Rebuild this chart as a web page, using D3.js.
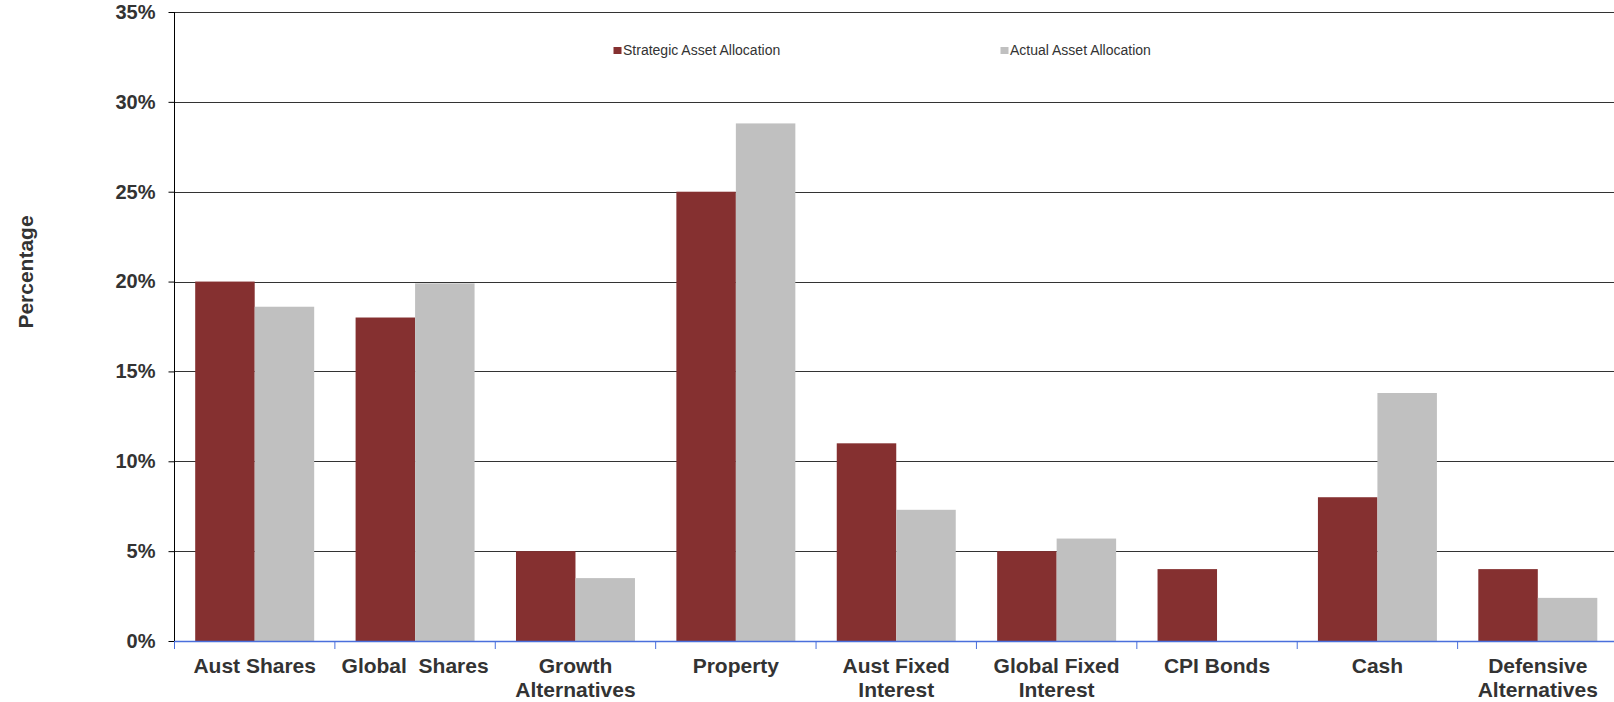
<!DOCTYPE html>
<html>
<head>
<meta charset="utf-8">
<script src="https://cdn.jsdelivr.net/npm/d3@7"></script>
<style>
  html, body { margin: 0; padding: 0; background: #fff; }
  svg { display: block; font-family: "Liberation Sans", Arial, Helvetica, sans-serif; }
</style>
</head>
<body>
<svg id="chart" width="1614" height="702"></svg>
<script>
const categories = ["Aust Shares", "Global  Shares", "Growth\nAlternatives", "Property",
  "Aust Fixed\nInterest", "Global Fixed\nInterest", "CPI Bonds", "Cash", "Defensive\nAlternatives"];
const seriesNames = ["Strategic Asset Allocation", "Actual Asset Allocation"];
const strategic = [20, 18, 5, 25, 11, 5, 4, 8, 4];
const actual = [18.6, 19.9, 3.5, 28.8, 7.3, 5.7, 0, 13.8, 2.4];
const yTicks = [0, 5, 10, 15, 20, 25, 30, 35];
const colors = ["#853030", "#c0c0c0"];

(function () {
const svg = d3.select("#chart");
const W = 1614, H = 702;
const pLeft = 174.5, pRight = 1618, pTop = 12, pBottom = 641;

const x0 = d3.scaleBand().domain(d3.range(categories.length)).range([pLeft, pRight]).padding(0);
const x1 = d3.scaleBand().domain([0, 1]).range([0, x0.bandwidth()]).paddingInner(0).paddingOuter(0.348);
const y = d3.scaleLinear().domain([0, 35]).range([pBottom, pTop]);

svg.append("defs").append("clipPath").attr("id", "clip")
  .append("rect").attr("x", 0).attr("y", 0).attr("width", W).attr("height", H);

const g = svg.append("g").attr("clip-path", "url(#clip)");

// gridlines
g.append("g").selectAll("line").data(yTicks.filter(d => d > 0)).join("line")
  .attr("x1", pLeft).attr("x2", pRight)
  .attr("y1", d => Math.round(y(d)) + 0.5).attr("y2", d => Math.round(y(d)) + 0.5)
  .attr("stroke", "#333").attr("stroke-width", 1);

// bars
const data = categories.map((c, i) => ({ i, vals: [strategic[i], actual[i]] }));
const groups = g.append("g").selectAll("g").data(data).join("g")
  .attr("transform", d => `translate(${x0(d.i)},0)`);
groups.selectAll("rect").data(d => d.vals.map((v, k) => ({ v, k })).filter(e => e.v > 0)).join("rect")
  .attr("x", d => x1(d.k))
  .attr("width", x1.bandwidth())
  .attr("y", d => y(d.v))
  .attr("height", d => y(0) - y(d.v))
  .attr("fill", d => colors[d.k]);

// y axis
const yAxis = d3.axisLeft(y).tickValues(yTicks).tickSize(6).tickPadding(13).tickFormat(d => d + "%");
const ya = svg.append("g").attr("transform", `translate(${pLeft},0)`).call(yAxis);
ya.select(".domain").attr("stroke", "#000").attr("d", `M0,${pTop}V${pBottom}`);
ya.selectAll(".tick line").attr("stroke", "#000");
ya.selectAll(".tick text").attr("fill", "#333").attr("font-size", 20).attr("font-weight", "bold")
  .attr("font-family", "'Liberation Sans', Arial, sans-serif");

// x axis (blue)
const xa = svg.append("g").attr("clip-path", "url(#clip)");
xa.append("line").attr("x1", pLeft).attr("x2", pRight).attr("y1", pBottom + 0.5).attr("y2", pBottom + 0.5)
  .attr("stroke", "#4a6fdc").attr("stroke-width", 1.5);
xa.selectAll("line.tk").data(d3.range(categories.length + 1)).join("line").attr("class", "tk")
  .attr("x1", d => pLeft + d * x0.step()).attr("x2", d => pLeft + d * x0.step())
  .attr("y1", pBottom).attr("y2", pBottom + 8)
  .attr("stroke", "#4a6fdc").attr("stroke-width", 1);

// x labels
const lbl = svg.append("g").selectAll("text").data(categories.map((c, i) => ({ c, i }))).join("text")
  .attr("x", d => x0(d.i) + x0.bandwidth() / 2)
  .attr("y", 673)
  .attr("text-anchor", "middle")
  .attr("font-size", 21).attr("font-weight", "bold").attr("fill", "#333")
  .style("white-space", "pre");
lbl.selectAll("tspan").data(d => d.c.split("\n").map((t, j) => ({ t, j, x: x0(d.i) + x0.bandwidth() / 2 }))).join("tspan")
  .attr("x", d => d.x).attr("dy", d => d.j === 0 ? 0 : 24).text(d => d.t);

// y title
svg.append("text").attr("transform", "translate(33,272) rotate(-90)")
  .attr("text-anchor", "middle").attr("font-size", 21).attr("font-weight", "bold").attr("fill", "#333")
  .text("Percentage");

// legend
const legendX = [613.5, 1000.5];
const lg = svg.append("g").selectAll("g").data(seriesNames.map((s, k) => ({ s, k }))).join("g")
  .attr("transform", d => `translate(${legendX[d.k]},0)`);
lg.append("rect").attr("x", 0).attr("y", 47).attr("width", 8).attr("height", 7).attr("fill", d => colors[d.k]);
lg.append("text").attr("x", 9.5).attr("y", 54.5).attr("font-size", 14).attr("fill", "#333").text(d => d.s);
})();
</script>
</body>
</html>
